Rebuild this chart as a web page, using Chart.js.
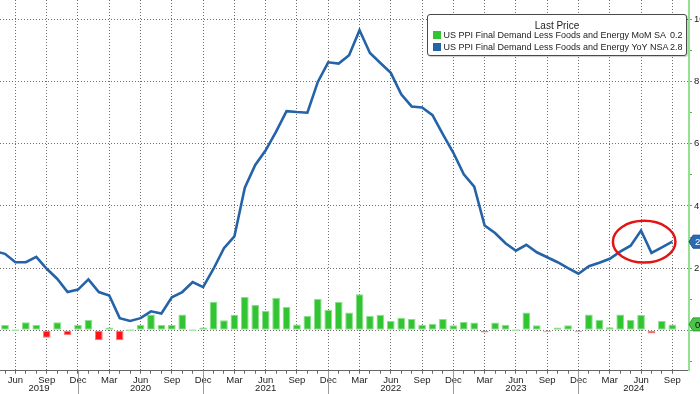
<!DOCTYPE html>
<html>
<head>
<meta charset="utf-8">
<script src="https://cdn.jsdelivr.net/npm/chart.js@4.4.0/dist/chart.umd.min.js"></script>
<style>
  html, body { margin: 0; padding: 0; background: #fff; }
  #wrap { position: relative; width: 700px; height: 394px; overflow: hidden; }
  #legend {
    position: absolute; left: 427px; top: 14px; width: 258px; height: 40px;
    border: 1.5px solid #4a4a4a; border-radius: 3px; background: #fff;
    font-family: 'Liberation Sans', Arial, sans-serif; color: #222;
    box-shadow: 1px 1px 1px rgba(0,0,0,0.2);
  }
  #legend .title { position: absolute; left: 0; right: 0; top: 4.5px; line-height: 12px; text-align: center; font-size: 10px; }
  #legend .row { position: absolute; left: 4.5px; right: 3.5px; height: 12px; line-height: 12px; font-size: 9px; }
  #legend .sw { position: absolute; left: 0; top: 2px; width: 8px; height: 8px; }
  #legend .txt { position: absolute; left: 11px; }
  #legend .val { position: absolute; right: 0; }
</style>
</head>
<body>
<div id="wrap">
  <canvas id="myChart" width="700" height="394"></canvas>
  <div id="legend">
    <div class="title">Last Price</div>
    <div class="row" style="top:14.2px"><span class="sw" style="background:#33c433"></span><span class="txt">US PPI Final Demand Less Foods and Energy MoM SA</span><span class="val">0.2</span></div>
    <div class="row" style="top:26.2px"><span class="sw" style="background:#2463a8"></span><span class="txt">US PPI Final Demand Less Foods and Energy YoY NSA</span><span class="val">2.8</span></div>
  </div>
</div>
<script>
// monthly categories, Apr 2019 .. Sep 2024
const months = [
  '2019-04','2019-05','2019-06','2019-07','2019-08','2019-09','2019-10','2019-11','2019-12',
  '2020-01','2020-02','2020-03','2020-04','2020-05','2020-06','2020-07','2020-08','2020-09','2020-10','2020-11','2020-12',
  '2021-01','2021-02','2021-03','2021-04','2021-05','2021-06','2021-07','2021-08','2021-09','2021-10','2021-11','2021-12',
  '2022-01','2022-02','2022-03','2022-04','2022-05','2022-06','2022-07','2022-08','2022-09','2022-10','2022-11','2022-12',
  '2023-01','2023-02','2023-03','2023-04','2023-05','2023-06','2023-07','2023-08','2023-09','2023-10','2023-11','2023-12',
  '2024-01','2024-02','2024-03','2024-04','2024-05','2024-06','2024-07','2024-08','2024-09'
];

// YoY NSA (line)
const yoy = [
  2.55, 2.46, 2.19, 2.19, 2.36, 1.98, 1.66, 1.23, 1.31,
  1.64, 1.23, 1.12, 0.39, 0.30, 0.39, 0.61, 0.54, 1.06, 1.23, 1.55, 1.39,
  1.98, 2.64, 3.02, 4.59, 5.32, 5.79, 6.39, 7.05, 7.02, 7.00, 7.99, 8.62,
  8.58, 8.85, 9.65, 8.92, 8.60, 8.28, 7.59, 7.20, 7.17, 6.92, 6.30, 5.71,
  5.02, 4.62, 3.37, 3.13, 2.80, 2.56, 2.75, 2.51, 2.35, 2.19, 2.00, 1.82,
  2.06, 2.17, 2.30, 2.53, 2.72, 3.21, 2.49, 2.67, 2.85
];

// MoM SA (bars)
const mom = [
  0.20, 0.17, 0.00, 0.26, 0.17, -0.24, 0.26, -0.15, 0.17,
  0.33, -0.32, 0.09, -0.32, 0.00, 0.17, 0.51, 0.17, 0.17, 0.51, 0.00, 0.09,
  0.92, 0.32, 0.50, 1.07, 0.81, 0.63, 1.04, 0.75, 0.19, 0.46, 1.01, 0.65,
  0.91, 0.57, 1.16, 0.46, 0.50, 0.30, 0.40, 0.36, 0.18, 0.21, 0.36, 0.16,
  0.27, 0.25, -0.07, 0.25, 0.18, 0.00, 0.57, 0.16, -0.02, 0.09, 0.16, -0.02,
  0.51, 0.33, 0.10, 0.51, 0.33, 0.49, -0.10, 0.30, 0.19
];

const quarterNames = { '03': 'Mar', '06': 'Jun', '09': 'Sep', '12': 'Dec' };
const years = ['2019', '2020', '2021', '2022', '2023', '2024'];
const yTicks = [-1, 0, 1, 2, 3, 4, 5, 6, 7, 8, 9, 10];
const yLabels = [2, 4, 6, 8, 10];
const yGrid = [0, 2, 4, 6, 8, 10];

// red ring around the last few months (data units)
const ring = { from: 59.3, to: 65.3, low: 2.18, high: 3.52 };

const FONT = "'Liberation Sans', Arial, sans-serif";
const GRID = '#707070';

function barFill(v) {
  if (Math.abs(v) < 0.05) return v < 0 ? '#f3a9a9' : '#abe6ab';
  return v < 0 ? '#ff1515' : '#33c433';
}
function barEdge(v) {
  if (Math.abs(v) < 0.05) return v < 0 ? '#f3a9a9' : '#abe6ab';
  return v < 0 ? '#ff7a7a' : '#8be08b';
}

function drawTag(ctx, x, y, text, fill, edge, color) {
  const h = 13;
  ctx.save();
  ctx.beginPath();
  ctx.moveTo(x, y);
  ctx.lineTo(x + 4, y - h / 2);
  ctx.lineTo(x + 30, y - h / 2);
  ctx.lineTo(x + 30, y + h / 2);
  ctx.lineTo(x + 4, y + h / 2);
  ctx.closePath();
  ctx.fillStyle = fill;
  ctx.fill();
  ctx.strokeStyle = edge;
  ctx.lineWidth = 1;
  ctx.stroke();
  ctx.fillStyle = color;
  ctx.font = '9.5px ' + FONT;
  ctx.textAlign = 'left';
  ctx.textBaseline = 'middle';
  ctx.fillText(text, x + 6, y + 0.5);
  ctx.restore();
}

const decorations = {
  id: 'decorations',
  afterDatasetsDraw(chart) {
    const { ctx, scales: { x, y } } = chart;
    // red ring
    const cx = (x.getPixelForValue(ring.from) + x.getPixelForValue(ring.to)) / 2;
    const rx = (x.getPixelForValue(ring.to) - x.getPixelForValue(ring.from)) / 2;
    const cy = (y.getPixelForValue(ring.low) + y.getPixelForValue(ring.high)) / 2;
    const ry = (y.getPixelForValue(ring.low) - y.getPixelForValue(ring.high)) / 2;
    ctx.save();
    ctx.beginPath();
    ctx.ellipse(cx, cy, rx, ry, 0, 0, Math.PI * 2);
    ctx.strokeStyle = '#e31414';
    ctx.lineWidth = 2.5;
    ctx.stroke();
    ctx.restore();
  },
  afterDraw(chart) {
    const { ctx, chartArea, scales: { x, y } } = chart;
    const bottom = chartArea.bottom;
    ctx.save();
    // year separators + year labels
    ctx.font = '9.5px ' + FONT;
    ctx.fillStyle = '#222';
    ctx.textAlign = 'center';
    ctx.textBaseline = 'middle';
    let prev = chartArea.left;
    years.forEach(yr => {
      const decIdx = months.indexOf(yr + '-12');
      let right = chartArea.right;
      if (decIdx >= 0) {
        right = x.getPixelForValue(decIdx);
        ctx.strokeStyle = '#9a9a9a';
        ctx.lineWidth = 1;
        ctx.beginPath();
        ctx.moveTo(Math.round(right) + 0.5, bottom);
        ctx.lineTo(Math.round(right) + 0.5, chart.height);
        ctx.stroke();
      }
      ctx.fillText(yr, (prev + right) / 2, bottom + 18);
      prev = right;
    });
    ctx.restore();
    // last value tags on the right axis
    const last = months.length - 1;
    drawTag(ctx, chartArea.right, y.getPixelForValue(yoy[last]), yoy[last].toFixed(1), '#2a6cb3', '#1d4f86', '#fff');
    drawTag(ctx, chartArea.right, y.getPixelForValue(mom[last]), mom[last].toFixed(1), '#49c649', '#2d9a2d', '#111');
  }
};

const ctx = document.getElementById('myChart').getContext('2d');

const data = {
  datasets: [
    {
      type: 'line',
      label: 'US PPI Final Demand Less Foods and Energy YoY NSA',
      data: yoy.map((v, i) => ({ x: i, y: v })),
      borderColor: '#2463a8',
      borderWidth: 2.6,
      pointRadius: 0,
      tension: 0,
      fill: false
    },
    {
      type: 'bar',
      label: 'US PPI Final Demand Less Foods and Energy MoM SA',
      data: mom.map((v, i) => ({ x: i, y: v })),
      backgroundColor: mom.map(barFill),
      borderColor: mom.map(barEdge),
      borderWidth: 1,
      borderSkipped: false,
      minBarLength: 2,
      categoryPercentage: 1,
      barPercentage: 0.74
    }
  ]
};

const config = {
  type: 'bar',
  data: data,
  plugins: [decorations],
  options: {
    responsive: false,
    animation: false,
    devicePixelRatio: 1,
    layout: { padding: 0 },
    plugins: {
      legend: { display: false },
      tooltip: { enabled: false }
    },
    scales: {
      x: {
        type: 'linear',
        min: 0.52,
        max: 66.6,
        offset: false,
        afterBuildTicks: scale => {
          scale.ticks = months.map((m, i) => ({ value: i })).filter(t => t.value >= scale.min && t.value <= scale.max);
        },
        afterFit: scale => {
          scale.height = 23.3;
          scale.paddingLeft = 0;
          scale.paddingRight = 0;
        },
        ticks: {
          autoSkip: false,
          maxRotation: 0,
          padding: 1,
          color: '#222',
          font: { family: FONT, size: 9.5 },
          callback: v => {
            const m = months[v];
            return m ? (quarterNames[m.slice(5)] || '') : '';
          }
        },
        grid: {
          offset: false,
          color: c => {
            const m = months[c.tick && c.tick.value];
            return m && quarterNames[m.slice(5)] ? GRID : 'rgba(0,0,0,0)';
          },
          lineWidth: 1,
          tickLength: 3,
          tickColor: '#666'
        },
        border: { display: true, color: '#666', width: 1, dash: [1, 2] }
      },
      y: {
        position: 'right',
        min: -1.3,
        max: 10.625,
        afterBuildTicks: scale => {
          scale.ticks = yTicks.map(v => ({ value: v }));
        },
        afterFit: scale => {
          scale.width = 11;
          scale.paddingTop = 0;
          scale.paddingBottom = 0;
        },
        ticks: {
          padding: 2,
          color: '#222',
          font: { family: FONT, size: 9.5 },
          callback: v => (yLabels.includes(v) ? String(v) : '')
        },
        grid: {
          color: c => (c.tick && yGrid.includes(c.tick.value) ? GRID : 'rgba(0,0,0,0)'),
          lineWidth: 1,
          tickLength: 3,
          tickColor: '#3fbf3f'
        },
        border: { display: true, color: '#95e095', width: 2, dash: [1, 2] }
      }
    }
  }
};

new Chart(ctx, config);
</script>
</body>
</html>
